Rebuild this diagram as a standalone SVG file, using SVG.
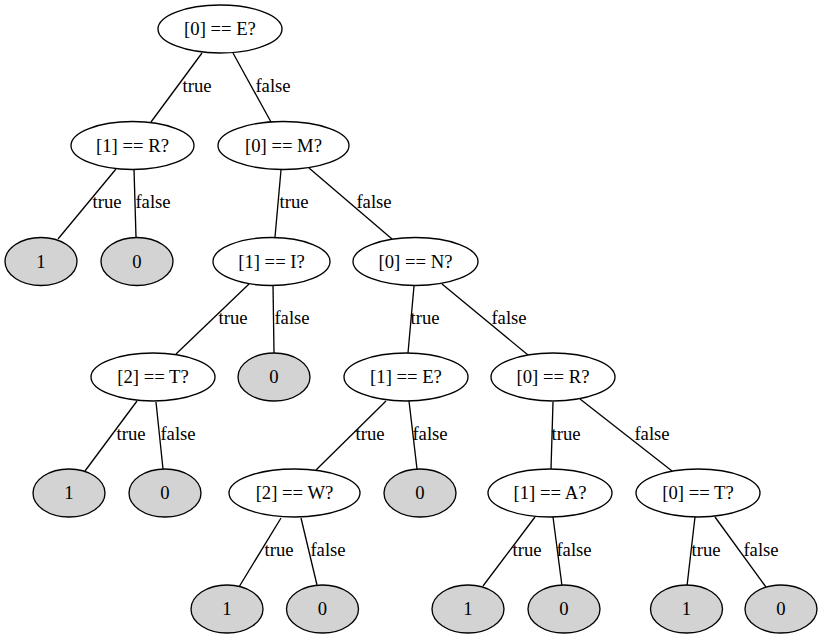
<svg xmlns="http://www.w3.org/2000/svg" width="823" height="639" viewBox="0 0 823 639">
<style>
.n ellipse{fill:#fff;stroke:#000;stroke-width:1.33}
.l ellipse{fill:#d3d3d3;stroke:#000;stroke-width:1.33}
text{font-family:"Liberation Serif","Times New Roman",serif;font-size:18.67px;text-anchor:middle;fill:#000}
#edges line{stroke:#000;stroke-width:1.33}
</style>
<rect width="823" height="639" fill="#fff"/>
<g id="edges">
<line x1="202" y1="53" x2="151" y2="122"/><text x="197" y="92">true</text>
<line x1="233" y1="53" x2="271" y2="122"/><text x="273" y="92">false</text>
<line x1="116" y1="169" x2="58" y2="239"/><text x="107" y="208">true</text>
<line x1="134" y1="169" x2="136" y2="237"/><text x="153" y="208">false</text>
<line x1="281" y1="170" x2="275" y2="237"/><text x="294" y="208">true</text>
<line x1="309" y1="168" x2="392" y2="239"/><text x="374" y="208">false</text>
<line x1="249" y1="284" x2="176" y2="354"/><text x="233" y="324">true</text>
<line x1="273" y1="284" x2="274" y2="353"/><text x="292" y="324">false</text>
<line x1="414" y1="286" x2="408" y2="353"/><text x="425" y="324">true</text>
<line x1="442" y1="284" x2="528" y2="355"/><text x="509" y="324">false</text>
<line x1="137" y1="401" x2="85" y2="471"/><text x="131" y="440">true</text>
<line x1="156" y1="402" x2="163" y2="469"/><text x="178" y="440">false</text>
<line x1="386" y1="401" x2="316" y2="470"/><text x="370" y="440">true</text>
<line x1="409" y1="401" x2="417" y2="469"/><text x="430" y="440">false</text>
<line x1="553" y1="402" x2="551" y2="469"/><text x="566" y="440">true</text>
<line x1="580" y1="399" x2="672" y2="471"/><text x="652" y="440">false</text>
<line x1="281" y1="518" x2="239" y2="587"/><text x="279" y="556">true</text>
<line x1="301" y1="518" x2="317" y2="585"/><text x="328" y="556">false</text>
<line x1="535" y1="517" x2="483" y2="586"/><text x="527" y="556">true</text>
<line x1="553" y1="517" x2="562" y2="586"/><text x="574" y="556">false</text>
<line x1="695" y1="517" x2="687" y2="586"/><text x="706" y="556">true</text>
<line x1="715" y1="517" x2="766" y2="587"/><text x="761" y="556">false</text>
</g>
<g id="n0" class="n"><ellipse cx="220" cy="29" rx="62" ry="24"/><text x="220" y="35">[0] == E?</text></g>
<g id="n1" class="n"><ellipse cx="132.5" cy="145.5" rx="61.5" ry="24"/><text x="132.5" y="151.5">[1] == R?</text></g>
<g id="n2" class="n"><ellipse cx="283.5" cy="145.5" rx="65.5" ry="24"/><text x="283.5" y="151.5">[0] == M?</text></g>
<g id="n3" class="l"><ellipse cx="41" cy="261.5" rx="36" ry="24"/><text x="41" y="267.5">1</text></g>
<g id="n4" class="l"><ellipse cx="137" cy="261.5" rx="36" ry="24"/><text x="137" y="267.5">0</text></g>
<g id="n5" class="n"><ellipse cx="271.5" cy="261.5" rx="58.5" ry="24"/><text x="271.5" y="267.5">[1] == I?</text></g>
<g id="n6" class="n"><ellipse cx="415.5" cy="261.5" rx="62.5" ry="24"/><text x="415.5" y="267.5">[0] == N?</text></g>
<g id="n7" class="n"><ellipse cx="153" cy="377" rx="62" ry="24"/><text x="153" y="383">[2] == T?</text></g>
<g id="n8" class="l"><ellipse cx="274" cy="377" rx="36" ry="24"/><text x="274" y="383">0</text></g>
<g id="n9" class="n"><ellipse cx="406" cy="377" rx="62" ry="24"/><text x="406" y="383">[1] == E?</text></g>
<g id="n10" class="n"><ellipse cx="553" cy="377" rx="62" ry="24"/><text x="553" y="383">[0] == R?</text></g>
<g id="n11" class="l"><ellipse cx="69" cy="493" rx="36" ry="24"/><text x="69" y="499">1</text></g>
<g id="n12" class="l"><ellipse cx="165" cy="493" rx="36" ry="24"/><text x="165" y="499">0</text></g>
<g id="n13" class="n"><ellipse cx="294.5" cy="493" rx="65.5" ry="24"/><text x="294.5" y="499">[2] == W?</text></g>
<g id="n14" class="l"><ellipse cx="420" cy="493" rx="36" ry="24"/><text x="420" y="499">0</text></g>
<g id="n15" class="n"><ellipse cx="550" cy="493" rx="62" ry="24"/><text x="550" y="499">[1] == A?</text></g>
<g id="n16" class="n"><ellipse cx="698" cy="493" rx="62" ry="24"/><text x="698" y="499">[0] == T?</text></g>
<g id="n17" class="l"><ellipse cx="227" cy="609" rx="36" ry="24"/><text x="227" y="615">1</text></g>
<g id="n18" class="l"><ellipse cx="322.5" cy="609" rx="36" ry="24"/><text x="322.5" y="615">0</text></g>
<g id="n19" class="l"><ellipse cx="468" cy="609" rx="36" ry="24"/><text x="468" y="615">1</text></g>
<g id="n20" class="l"><ellipse cx="564" cy="609" rx="36" ry="24"/><text x="564" y="615">0</text></g>
<g id="n21" class="l"><ellipse cx="686.5" cy="609" rx="36" ry="24"/><text x="686.5" y="615">1</text></g>
<g id="n22" class="l"><ellipse cx="781" cy="609" rx="36" ry="24"/><text x="781" y="615">0</text></g>
</svg>
